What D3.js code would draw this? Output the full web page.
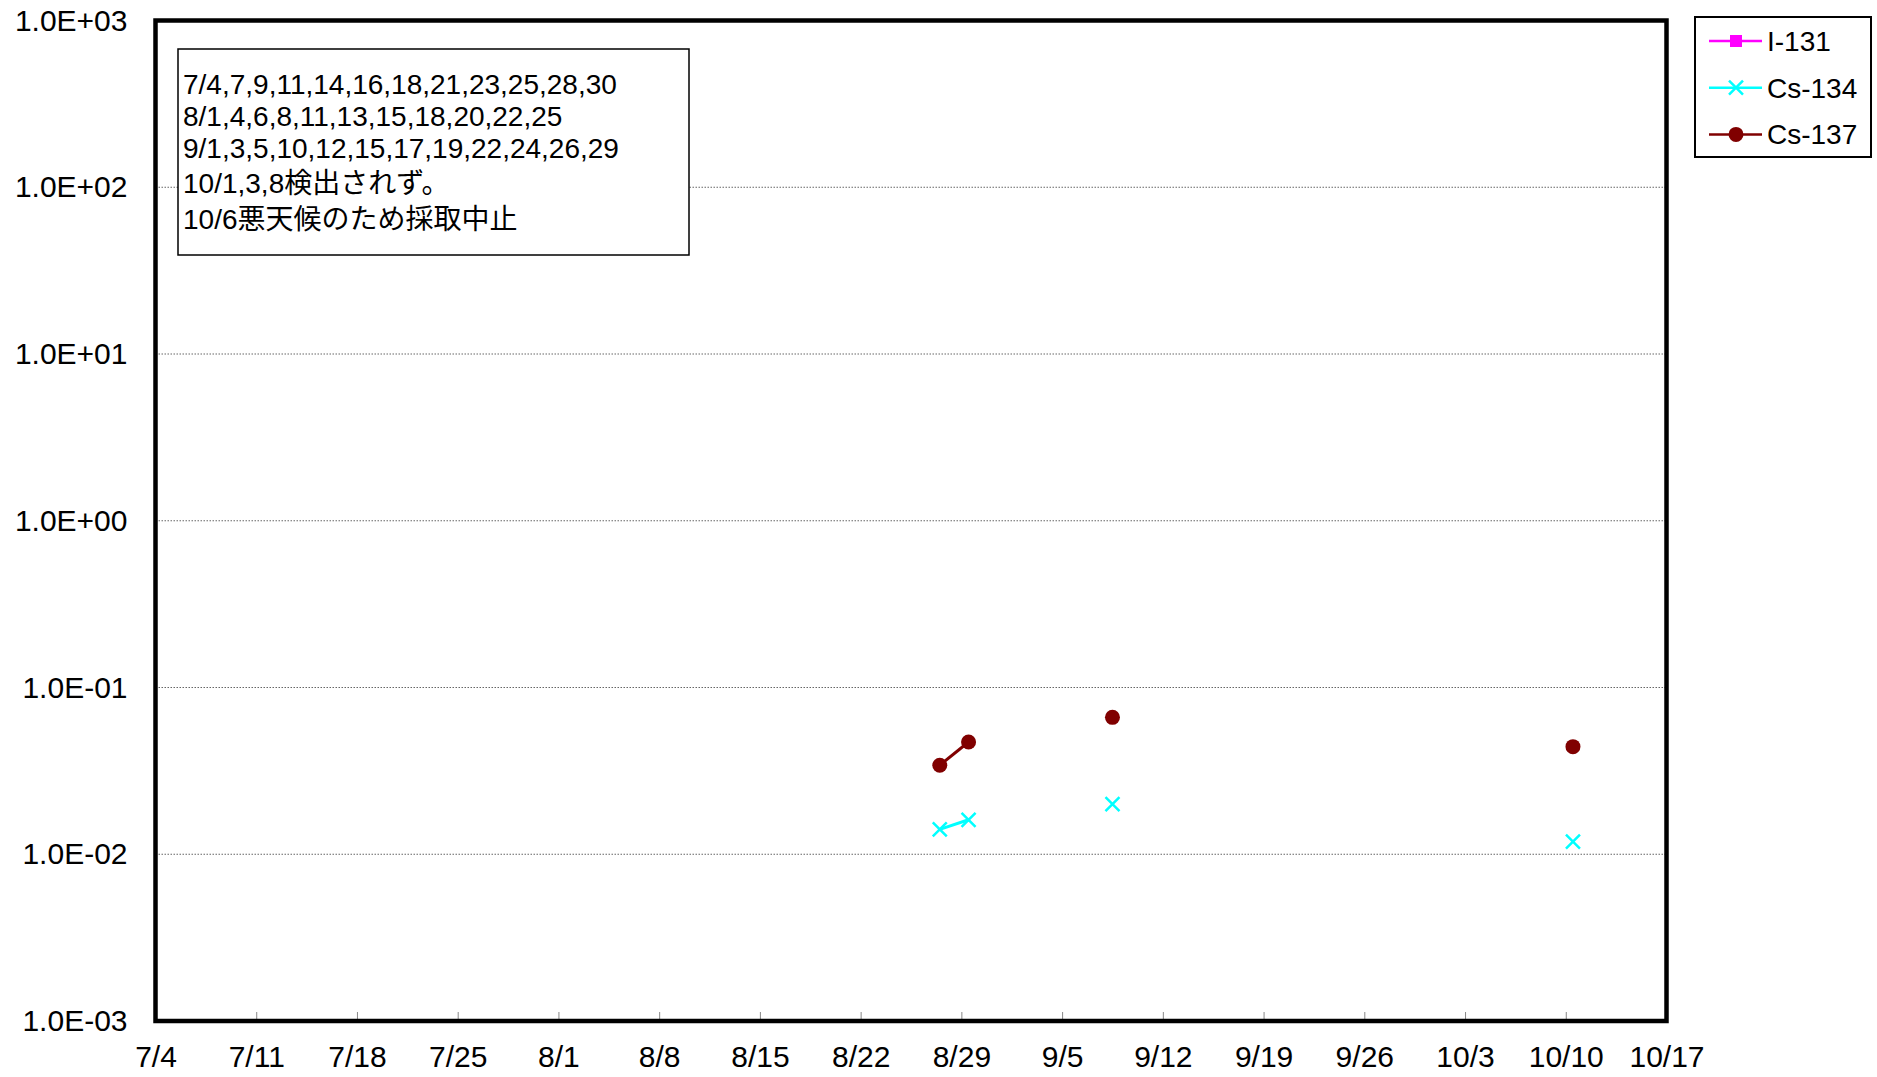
<!DOCTYPE html>
<html>
<head>
<meta charset="utf-8">
<script src="https://cdn.jsdelivr.net/npm/d3@7"></script>
<style>
  body { margin: 0; background: #fff; }
  text { font-family: "Liberation Sans", Arial, "Noto Sans CJK JP", sans-serif; }
</style>
</head>
<body>
<svg id="chart" width="1877" height="1077"></svg>
<script>
// sampling days where nothing was detected (from the note in the chart)
const notDetected = [
  "2011-07-04","2011-07-07","2011-07-09","2011-07-11","2011-07-14","2011-07-16",
  "2011-07-18","2011-07-21","2011-07-23","2011-07-25","2011-07-28","2011-07-30",
  "2011-08-01","2011-08-04","2011-08-06","2011-08-08","2011-08-11","2011-08-13",
  "2011-08-15","2011-08-18","2011-08-20","2011-08-22","2011-08-25",
  "2011-09-01","2011-09-03","2011-09-05","2011-09-10","2011-09-12","2011-09-15",
  "2011-09-17","2011-09-19","2011-09-22","2011-09-24","2011-09-26","2011-09-29",
  "2011-10-01","2011-10-03","2011-10-08"
];
const detectedDates = ["2011-08-27","2011-08-29","2011-09-08","2011-10-10"];
const i131Values  = [null, null, null, null];
const cs134Values = [0.0141, 0.0161, 0.0200, 0.0119];
const cs137Values = [0.0342, 0.0471, 0.0662, 0.0442];

const yTicks = [1e-3, 1e-2, 1e-1, 1e0, 1e1, 1e2, 1e3];
const noteLines = [
  "7/4,7,9,11,14,16,18,21,23,25,28,30",
  "8/1,4,6,8,11,13,15,18,20,22,25",
  "9/1,3,5,10,12,15,17,19,22,24,26,29",
  "10/1,3,8検出されず。",
  "10/6悪天候のため採取中止"
];

const parse = d3.timeParse("%Y-%m-%d");

function buildSeries(values) {
  let rows = notDetected.map(d => ({date: parse(d), value: null}));
  detectedDates.forEach((d, i) => rows.push({date: parse(d), value: values[i]}));
  return rows.sort((a, b) => a.date - b.date);
}

const series = [
  {name: "I-131",  color: "#ff00ff", symbol: "square", rows: buildSeries(i131Values)},
  {name: "Cs-134", color: "#00ffff", symbol: "cross",  rows: buildSeries(cs134Values)},
  {name: "Cs-137", color: "#800000", symbol: "circle", rows: buildSeries(cs137Values)}
];

const svg = d3.select("#chart");
const plot = {left: 155.5, right: 1666.5, top: 20.5, bottom: 1021};

const x = d3.scaleTime()
  .domain([parse("2011-07-04"), parse("2011-10-17")])
  .range([plot.left, plot.right]);

const y = d3.scaleLog()
  .domain([1e-3, 1e3])
  .range([plot.bottom, plot.top]);

// Excel date axis puts each day in the middle of its slot
const xPos = d => x(d3.timeHour.offset(d, 12));

// gridlines
svg.append("g")
  .selectAll("line")
  .data(yTicks.slice(1, -1))
  .join("line")
  .attr("x1", plot.left).attr("x2", plot.right)
  .attr("y1", d => y(d)).attr("y2", d => y(d))
  .attr("stroke", "#666")
  .attr("stroke-width", 1)
  .attr("stroke-dasharray", "1.5,1.5");

// x axis
const xAxis = svg.append("g")
  .attr("transform", `translate(0,${plot.bottom})`)
  .call(d3.axisBottom(x)
    .ticks(d3.timeMonday.every(1))
    .tickFormat(d3.timeFormat("%-m/%-d"))
    .tickSizeInner(-9)
    .tickSizeOuter(0)
    .tickPadding(25));
xAxis.select(".domain").remove();
xAxis.selectAll(".tick line").attr("stroke", "#888");
xAxis.selectAll("text").attr("font-size", 30).attr("fill", "#000");

// y axis
const fmtExp = d => {
  let e = Math.round(Math.log10(d));
  let s = (e < 0 ? "-" : "+") + String(Math.abs(e)).padStart(2, "0");
  return "1.0E" + s;
};
const yAxis = svg.append("g")
  .attr("transform", `translate(${plot.left},0)`)
  .call(d3.axisLeft(y)
    .tickValues(yTicks)
    .tickFormat(fmtExp)
    .tickSize(0)
    .tickPadding(28));
yAxis.select(".domain").remove();
yAxis.selectAll("text").attr("font-size", 30).attr("fill", "#000");

// plot frame
svg.append("rect")
  .attr("x", plot.left).attr("y", plot.top)
  .attr("width", plot.right - plot.left)
  .attr("height", plot.bottom - plot.top)
  .attr("fill", "none")
  .attr("stroke", "#000")
  .attr("stroke-width", 4.5);

// markers
function drawMarker(g, symbol, color) {
  if (symbol === "circle") {
    g.append("circle").attr("r", 7.5).attr("fill", color);
  } else if (symbol === "square") {
    g.append("rect").attr("x", -6).attr("y", -6).attr("width", 12).attr("height", 12).attr("fill", color);
  } else {
    g.append("path").attr("d", "M-7,-7L7,7M-7,7L7,-7")
      .attr("stroke", color).attr("stroke-width", 2.5).attr("fill", "none");
  }
}

const line = d3.line()
  .defined(d => d.value != null)
  .x(d => xPos(d.date))
  .y(d => y(d.value));

series.forEach(s => {
  svg.append("path")
    .datum(s.rows)
    .attr("d", line)
    .attr("fill", "none")
    .attr("stroke", s.color)
    .attr("stroke-width", 3);

  svg.append("g")
    .selectAll("g")
    .data(s.rows.filter(d => d.value != null))
    .join("g")
    .attr("transform", d => `translate(${xPos(d.date)},${y(d.value)})`)
    .each(function() { drawMarker(d3.select(this), s.symbol, s.color); });
});

// note box
svg.append("rect")
  .attr("x", 178).attr("y", 49).attr("width", 511).attr("height", 206)
  .attr("fill", "#fff").attr("stroke", "#000").attr("stroke-width", 1.5);
const noteY = [94, 126, 158, 193, 229];
svg.append("g")
  .selectAll("text")
  .data(noteLines)
  .join("text")
  .attr("x", 183)
  .attr("y", (d, i) => noteY[i])
  .attr("font-size", 28)
  .text(d => d);

// legend
svg.append("rect")
  .attr("x", 1695).attr("y", 17).attr("width", 176).attr("height", 140)
  .attr("fill", "#fff").attr("stroke", "#000").attr("stroke-width", 2);

const leg = svg.append("g")
  .selectAll("g")
  .data(series)
  .join("g")
  .attr("transform", (d, i) => `translate(0,${41 + i * 46.7})`);
leg.append("line")
  .attr("x1", 1709).attr("x2", 1762)
  .attr("stroke", d => d.color).attr("stroke-width", 2.5);
leg.each(function(d) {
  let g = d3.select(this).append("g").attr("transform", "translate(1736,0)");
  drawMarker(g, d.symbol, d.color);
});
leg.append("text")
  .attr("x", 1767).attr("y", 10)
  .attr("font-size", 28)
  .text(d => d.name);
</script>
</body>
</html>
